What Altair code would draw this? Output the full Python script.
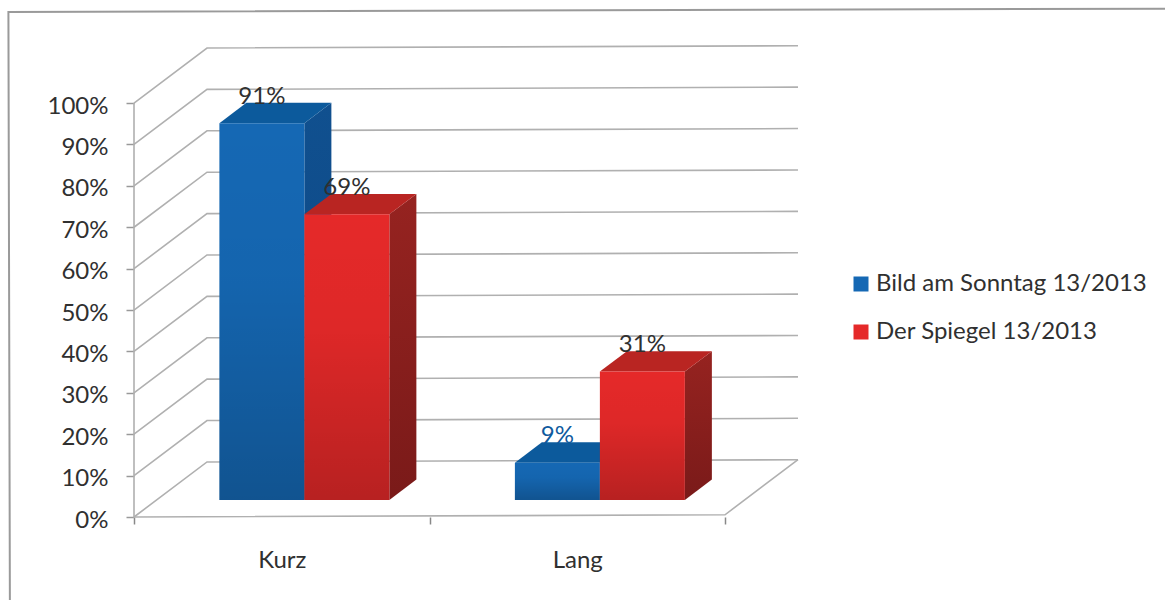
import altair as alt
import pandas as pd

# Survey shares per text length and magazine
categories = ["Kurz", "Lang"]
series_names = ["Bild am Sonntag 13/2013", "Der Spiegel 13/2013"]
bild_values = [91, 9]
spiegel_values = [69, 31]
y_ticks = [0, 10, 20, 30, 40, 50, 60, 70, 80, 90, 100]
x_ticks = [0, 0.5, 1, 1.5, 2]

# Oblique projection of the floor depth, in axis units
DEPTH_X = 0.247
DEPTH_Y = 13.3
BAR_WIDTH = 0.2876
BAR_FRONT = 0.31
BAR_BACK = 0.68
# The box lines rise slightly towards the right
WALL_RISE = 0.27

FONT = "Lato"
TEXT = "#303030"
GRID = "#b0b0b0"
SHADES = {
    series_names[0]: {"base": "#1568b4", "top": "#0c5a9c", "side": ("#10508f", "#0d4684")},
    series_names[1]: {"base": "#e52929", "top": "#b92522", "side": ("#962320", "#7a1a19")},
}


def project(x, y, depth):
    return x + depth * DEPTH_X, y + depth * DEPTH_Y


front_rows, side_rows, top_rows, label_rows = [], [], [], []
for c, cat in enumerate(categories):
    centre = c + 0.5
    for s, (name, vals) in enumerate(zip(series_names, [bild_values, spiegel_values])):
        v = vals[c]
        left = centre + (s - 1) * BAR_WIDTH
        right = left + BAR_WIDTH
        xl, y0 = project(left, 0, BAR_FRONT)
        xr, yt = project(right, v, BAR_FRONT)
        front_rows.append(dict(series=name, x=xl, x2=xr, y=yt, y2=y0))
        for d in (BAR_FRONT, BAR_BACK):
            sx, sb = project(right, 0, d)
            _, st = project(right, v, d)
            side_rows.append(dict(series=name, group=cat, x=sx, y=st, y2=sb))
            tl, ty = project(left, v, d)
            tr, _ = project(right, v, d)
            top_rows.append(dict(series=name, group=cat, x=tl, x2=tr, y=ty))
        lx = (xl + xr) / 2
        _, ly = project(right, v, BAR_BACK)
        label_rows.append(dict(x=lx, y=ly, value=v, label=f"{v}%"))

front = pd.DataFrame(front_rows)
side = pd.DataFrame(side_rows)
top = pd.DataFrame(top_rows)
labels = pd.DataFrame(label_rows)

# Wall and floor lines of the box
wall_rows = []
for t in y_ticks:
    for i, (x, d) in enumerate([(0, 0), (0, 1), (2, 1)]):
        px, py = project(x, t + x * WALL_RISE, d)
        wall_rows.append(dict(line=f"g{t}", i=i, x=px, y=py))
outline = [(0, 100, 0), (0, 0, 0), (2, 0, 0), (2, 0, 1)]
for i, (x, t, d) in enumerate(outline):
    px, py = project(x, t + x * WALL_RISE, d)
    wall_rows.append(dict(line="outline", i=i, x=px, y=py))
walls = pd.DataFrame(wall_rows)

# Outer chart border
border = pd.DataFrame(
    {"i": [0, 1, 2], "x": [-0.42, -0.425, 3.49], "y": [-20.2, 122.0, 122.8]}
)

W, H = 664, 469
x_scale = alt.Scale(domain=[0, 2 + DEPTH_X], nice=False, zero=False)
y_scale = alt.Scale(domain=[0, 100 + DEPTH_Y], nice=False, zero=False)

x_axis = alt.Axis(
    values=x_ticks,
    title=None,
    domain=False,
    grid=False,
    tickSize=7,
    tickWidth=1.5,
    tickColor="#888888",
    tickOpacity=alt.condition("datum.value == 0.5 || datum.value == 1.5", alt.value(0), alt.value(1)),
    labelExpr="datum.value == 0.5 ? 'Kurz' : datum.value == 1.5 ? 'Lang' : ''",
    labelFont=FONT,
    labelFontSize=24,
    labelColor=TEXT,
    labelPadding=24,
    labelOverlap=False,
    labelFlush=False,
)
y_axis = alt.Axis(
    values=y_ticks,
    title=None,
    domain=False,
    grid=False,
    tickSize=8,
    tickWidth=1.5,
    tickColor="#999999",
    labelExpr="datum.value + '%'",
    labelFont=FONT,
    labelFontSize=24,
    labelColor=TEXT,
    labelPadding=18,
    labelOffset=3,
    labelOverlap=False,
    labelFlush=False,
)
X = alt.X("x:Q", scale=x_scale, axis=x_axis)
Y = alt.Y("y:Q", scale=y_scale, axis=y_axis)

border_layer = (
    alt.Chart(border)
    .mark_line(color="#9a9a9a", strokeWidth=2, clip=False)
    .encode(x=X, y=Y, order="i:Q")
)
wall_layer = (
    alt.Chart(walls)
    .mark_line(color=GRID, strokeWidth=1.6, clip=False)
    .encode(x=X, y=Y, detail="line:N", order="i:Q")
)


def vertical_gradient(stops):
    return alt.LinearGradient(
        gradient="linear",
        x1=0, y1=0, x2=0, y2=1,
        stops=[alt.GradientStop(offset=o, color=c) for o, c in stops],
    )


faces = []
for name in series_names:
    shade = SHADES[name]
    faces.append(
        alt.Chart(side[side.series == name])
        .mark_area(color=vertical_gradient([(0, shade["side"][0]), (1, shade["side"][1])]))
        .encode(x=X, y=Y, y2="y2:Q", detail="group:N")
    )
    faces.append(
        alt.Chart(top[top.series == name])
        .mark_area(orient="horizontal", color=shade["top"])
        .encode(x=X, x2="x2:Q", y=Y, detail="group:N")
    )

front_layer = (
    alt.Chart(front)
    .mark_rect()
    .encode(
        x=X,
        x2="x2:Q",
        y=Y,
        y2="y2:Q",
        color=alt.Color(
            "series:N",
            scale=alt.Scale(domain=series_names, range=[SHADES[n]["base"] for n in series_names]),
            legend=alt.Legend(
                title=None,
                orient="none",
                legendX=715,
                legendY=224,
                symbolType="square",
                symbolSize=225,
                symbolStrokeWidth=0,
                labelFont=FONT,
                labelFontSize=24,
                labelColor=TEXT,
                labelOffset=3,
                labelLimit=400,
                rowPadding=24,
            ),
        ),
    )
)
shading_layer = (
    alt.Chart(front)
    .mark_rect(
        color=vertical_gradient([(0, "rgba(0,0,0,0)"), (0.4, "rgba(0,0,0,0.03)"), (1, "rgba(0,0,0,0.2)")])
    )
    .encode(x=X, x2="x2:Q", y=Y, y2="y2:Q")
)
label_layer = (
    alt.Chart(labels)
    .mark_text(font=FONT, fontSize=24, baseline="middle", dy=-6)
    .encode(
        x=X,
        y=Y,
        text="label:N",
        color=alt.condition("datum.value < 10", alt.value("#0f5a9e"), alt.value(TEXT)),
    )
)

chart = (
    alt.layer(border_layer, wall_layer, *faces, front_layer, shading_layer, label_layer)
    .properties(
        width=W,
        height=H,
        background="white",
        padding={"left": 134, "top": 48, "right": 367, "bottom": 83},
        autosize=alt.AutoSizeParams(type="none"),
    )
    .configure_view(stroke=None)
)

chart.save("out.html", embed_options={"renderer": "svg", "actions": False})
